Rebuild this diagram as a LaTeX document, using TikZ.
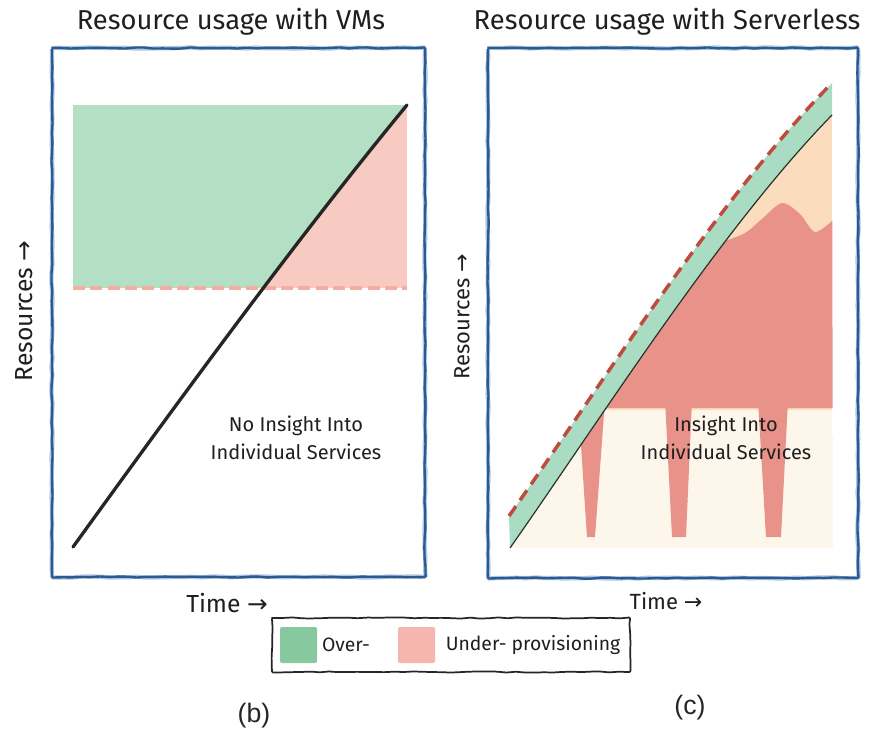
\documentclass[tikz,border=0pt]{standalone}
\usepackage{fontspec}
\setmainfont{Fira Sans}
\newfontfamily\arrowfont{DejaVu Sans}
\newfontfamily\capfont{Liberation Sans}
\usetikzlibrary{decorations.pathmorphing}

\definecolor{frameblue}{HTML}{2B5A92}
\definecolor{framehalo}{HTML}{AFC7E2}
\definecolor{overgreen}{HTML}{B3DFC4}
\definecolor{undpink}{HTML}{F7CAC2}
\definecolor{dashpink}{HTML}{F3AE9F}
\definecolor{bandgreen}{HTML}{A9DCC3}
\definecolor{usedred}{HTML}{E9928A}
\definecolor{spare}{HTML}{FBDDBD}
\definecolor{idle}{HTML}{FDF6EB}
\definecolor{limitred}{HTML}{BE4B3E}
\definecolor{keygreen}{HTML}{88C89E}
\definecolor{keypink}{HTML}{F4B6AE}
\definecolor{inkline}{HTML}{26332A}

\newcommand{\rarr}{{\arrowfont →}}

\tikzset{
  wobbly/.style={decorate, decoration={random steps, segment length=7pt, amplitude=0.45pt}, rounded corners=0.8pt},
  panelhalo/.style={wobbly, draw=framehalo, line width=3.2pt},
  panelframe/.style={wobbly, draw=frameblue, line width=1.8pt},
  titletext/.style={font=\fontsize{20.5}{24}\selectfont, text=black!88, inner sep=0pt},
  axistext/.style={font=\fontsize{18.5}{22}\selectfont, text=black!88, inner sep=0pt},
  smallaxis/.style={font=\fontsize{16.5}{20}\selectfont, text=black!88, inner sep=0pt},
  insight/.style={font=\fontsize{15}{21}\selectfont, text=black!88, align=center, inner sep=0pt},
  keytext/.style={font=\fontsize{14.5}{17}\selectfont, text=black!88, inner sep=0pt},
  keybox/.style={wobbly, draw=black!85, line width=1.3pt, fill=white},
  subcap/.style={font=\capfont\fontsize{20}{24}\selectfont, text=black!85, inner sep=0pt},
  usageline/.style={draw=black!85, line width=2.5pt, line cap=round},
  demandline/.style={draw=inkline, line width=0.9pt},
  limitline/.style={draw=limitred, line width=2.6pt, dash pattern=on 9pt off 5.5pt},
  floorline/.style={draw=dashpink, line width=2.6pt, dash pattern=on 9pt off 4pt},
}

\begin{document}
\begin{tikzpicture}[x=0.75pt,y=-0.75pt]
\pgfmathsetseed{7}
\fill[white] (0,0) rectangle (871,734);
\useasboundingbox (0,0) rectangle (871,734);

% ---------- VM panel ----------
\fill[overgreen] (73,105) rectangle (407,288);
\begin{scope}
  \clip (73,547) .. controls (190,385) and (300,235) .. (407,105) -- (407,560) -- cycle;
  \fill[undpink] (73,105) rectangle (407,288);
\end{scope}
\coordinate (floorL) at (73,288);
\coordinate (floorR) at (407,288);
\draw[floorline] (floorL) -- (floorR);
\coordinate (useStart) at (73,547);
\coordinate (useEnd) at (407,105);
\draw[usageline] (useStart) .. controls (190,385) and (300,235) .. (useEnd);

\node[insight] (noinsight) at (296,438) {No Insight Into\\Individual Services};

% ---------- Serverless panel ----------
\coordinate (demStart) at (510,548);
\coordinate (demEnd) at (832,115);
\coordinate (limStart) at (509,516);
\coordinate (limEnd) at (832,83);
\begin{scope}
  \clip (demStart) .. controls (600,420) and (720,230) .. (demEnd) -- (833,548) -- cycle;
  \fill[idle] (500,40) rectangle (833,548);
  \fill[spare] (600,100) rectangle (833,410);
  \fill[usedred] (600,408) -- (600,150) -- (718,150)
     -- plot[smooth] coordinates {(722,242) (745,233) (763,218) (782,203) (800,214) (815,232) (833,220)}
     -- (833,408) -- cycle;
  \fill[usedred] (578,400) -- (605,400) -- (595,537) -- (587,537) -- cycle;
  \fill[usedred] (665,400) -- (692,400) -- (686,537) -- (672,537) -- cycle;
  \fill[usedred] (758,400) -- (788,400) -- (781,537) -- (766,537) -- cycle;
\end{scope}
\fill[bandgreen] (limStart) .. controls (599,388) and (719,198) .. (limEnd)
   -- (demEnd) .. controls (720,230) and (600,420) .. (demStart) -- cycle;
\draw[demandline] (demStart) .. controls (600,420) and (720,230) .. (demEnd);
\draw[limitline] (limStart) .. controls (599,388) and (719,198) .. (limEnd);

\node[insight] (withinsight) at (726,438) {Insight Into\\Individual Services};

% ---------- frames ----------
\draw[panelhalo] (52,48) rectangle (425,577);
\draw[panelframe] (52,48) rectangle (425,577);
\draw[panelhalo] (488,48) rectangle (858,578);
\draw[panelframe] (488,48) rectangle (858,578);

% ---------- titles and axes ----------
\node[titletext] (vmtitle) at (231,22) {Resource usage with VMs};
\node[titletext] (sltitle) at (667,22) {Resource usage with Serverless};
\node[axistext, rotate=90] (vmres) at (24,311) {Resources \rarr};
\node[smallaxis, rotate=90] (slres) at (462,317) {Resources \rarr};
\node[axistext] (vmtime) at (227,603) {Time \rarr};
\node[smallaxis] (sltime) at (666,601) {Time \rarr};

% ---------- key ----------
\draw[keybox] (272,618) rectangle (630,672);
\fill[keygreen, rounded corners=1.5pt] (280,627) rectangle (317,663);
\fill[keypink, rounded corners=1.5pt] (398,627) rectangle (435,663);
\node[keytext] (overkey) at (346,645) {Over-};
\node[keytext] (underkey) at (533,645) {Under- provisioning};

% ---------- sub-captions ----------
\node[subcap] (capb) at (254,716) {(b)};
\node[subcap] (capc) at (690,708) {(c)};
\end{tikzpicture}
\end{document}
